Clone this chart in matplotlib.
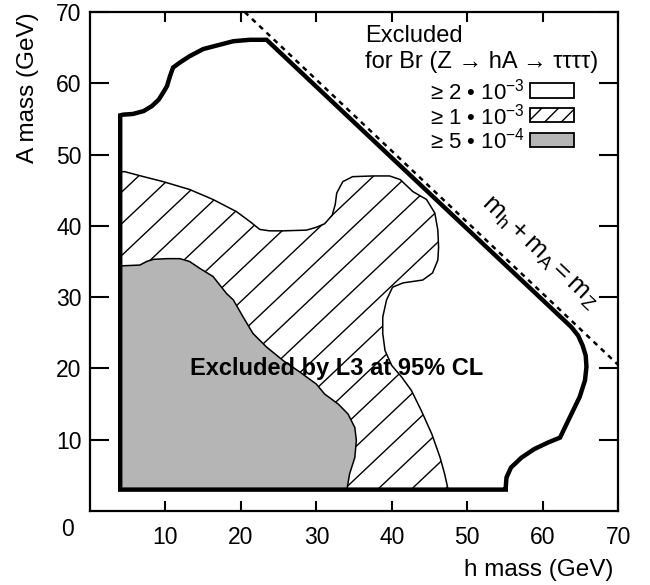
import numpy as np
import matplotlib
matplotlib.use("Agg")
import matplotlib.pyplot as plt
from matplotlib.patches import Polygon, Rectangle

plt.rcParams['font.family'] = ['Liberation Sans', 'DejaVu Sans']
plt.rcParams['mathtext.fontset'] = 'custom'
plt.rcParams['mathtext.rm'] = 'Liberation Sans'
plt.rcParams['mathtext.it'] = 'Liberation Sans'
plt.rcParams['hatch.linewidth'] = 1.0

# excluded for Br >= 2e-3 (outer thick contour)
outer_h = [4, 4, 4.4, 5.7, 7.1, 8.2, 9.1, 9.7, 10.2, 10.6, 11.0, 11.9, 13.2,
           15.0, 16.8, 19.0, 21.2, 23.4,
           63.8, 64.7, 65.3, 65.7, 65.8, 65.6, 64.9, 63.8, 62.3, 60.7, 58.9,
           57.2, 55.8, 55.2, 55.1, 55.1]
outer_a = [3, 55.5, 55.6, 55.7, 56.1, 56.8, 57.7, 58.7, 59.6, 61.0, 62.2, 62.9,
           63.8, 64.8, 65.3, 65.9, 66.1, 66.1,
           25.8, 24.6, 23.2, 21.8, 20.2, 18.3, 16.0, 13.6, 10.3, 9.6, 8.7,
           7.5, 6.1, 4.7, 3.3, 3]

# excluded for Br >= 1e-3 (hatched)
hatch_h = [4, 4, 4.6, 7.1, 9.7, 13.2, 16.3, 19.4, 21.2, 22.5, 23.8, 25.6,
           28.7, 30.0, 31.1, 32.1, 32.5, 32.7, 33.5, 34.8, 37.5, 39.7, 41.1,
           42.8, 44.6, 45.7, 46.1, 46.2, 46.1, 45.4, 44.1, 41.5, 40.1, 39.3,
           38.8, 38.8, 39.1, 40.0, 41.3, 42.6, 43.9, 45.3, 46.4, 47.0, 47.4,
           47.4]
hatch_a = [3, 47.6, 47.6, 46.9, 46.2, 45.1, 43.7, 42.0, 40.6, 39.5, 39.3, 39.3,
           39.4, 39.8, 40.3, 41.5, 43.0, 44.6, 46.2, 46.9, 47.0, 47.0, 46.5,
           44.8, 43.7, 41.8, 39.4, 37.0, 35.2, 33.4, 32.4, 32.0, 31.4, 29.6,
           27.2, 24.9, 22.5, 20.4, 18.8, 16.9, 14.1, 10.8, 7.5, 5.2, 3.3,
           3]

# excluded for Br >= 5e-4 (shaded)
shade_h = [4, 4, 4.4, 6.6, 7.5, 8.4, 10.2, 11.9, 13.2, 14.6, 16.3, 18.1,
           19.0, 20.3, 21.6, 23.4, 25.6, 27.8, 30.0, 31.1, 32.9, 34.2, 35.1,
           35.3, 35.1, 34.4, 34.1, 34.0]
shade_a = [3, 34.4, 34.4, 34.5, 35.0, 35.3, 35.4, 35.4, 35.0, 34.0, 32.9, 30.5,
           29.6, 27.2, 24.9, 23.0, 21.1, 19.5, 17.8, 16.4, 15.0, 13.6, 11.7,
           9.9, 7.5, 5.2, 3.3, 3]

mz_line = 90.5
ticks = [10, 20, 30, 40, 50, 60, 70]
legend_labels = ['≥ 2 • 10$^{\\mathrm{-3}}$', '≥ 1 • 10$^{\\mathrm{-3}}$',
                 '≥ 5 • 10$^{\\mathrm{-4}}$']
shade_color = '#b5b5b5'

fig = plt.figure(figsize=(6.5, 5.85), dpi=100)
ax = fig.add_axes([0.1385, 0.1265, 0.8125, 0.853])
ax.set_xlim(0, 70)
ax.set_ylim(0, 70)

# hatched region, wide hatching drawn by hand and clipped to the contour
hpoly = Polygon(np.column_stack([hatch_h, hatch_a]), closed=True,
                facecolor='white', edgecolor='black', lw=1.1, zorder=2)
ax.add_patch(hpoly)
for c in np.arange(-35.1 - 4.45 * 12, 60, 4.45):
    ln, = ax.plot([0, 70], [c, c + 70], color='black', lw=1.0, zorder=2.1)
    ln.set_clip_path(hpoly)

# shaded region
spoly = Polygon(np.column_stack([shade_h, shade_a]), closed=True,
                facecolor=shade_color, edgecolor='black', lw=1.1, zorder=3)
ax.add_patch(spoly)

# outer contour
opoly = Polygon(np.column_stack([outer_h, outer_a]), closed=True,
                facecolor='none', edgecolor='black', lw=3.2, zorder=4)
ax.add_patch(opoly)

# kinematic limit
xs = np.array([mz_line - 70, 70])
ax.plot(xs, mz_line - xs, color='black', lw=1.8, ls=(0, (2, 2)), zorder=4)
ax.text(59.5, 36.3, r'$\mathrm{m_h + m_A = m_Z}$', rotation=-43.5,
        ha='center', va='center', fontsize=19, zorder=5)

ax.text(32.7, 20.0, 'Excluded by L3 at 95% CL', fontsize=17,
        fontweight='bold', ha='center', va='center', zorder=6)

# legend
ax.text(36.4, 66.6, 'Excluded', fontsize=17, ha='left', va='center')
ax.text(36.4, 63.0, 'for Br (Z → hA → ττττ)', fontsize=17, ha='left',
        va='center')
rows = [58.9, 55.4, 51.9]
boxes = [dict(facecolor='white'), dict(facecolor='white', hatch='//'),
         dict(facecolor=shade_color)]
for lab, yy, st in zip(legend_labels, rows, boxes):
    ax.text(57.7, yy, lab, fontsize=16, ha='right', va='center')
    ax.add_patch(Rectangle((58.3, yy - 0.9), 5.9, 2.0, edgecolor='black',
                           lw=1.3, **st))

ax.set_xticks(ticks)
ax.set_yticks(ticks)
ax.tick_params(direction='in', top=True, right=True, labelsize=16.5, width=1.5)
ax.tick_params(axis='x', length=7, pad=11)
ax.tick_params(axis='y', length=14, pad=6)
for s in ax.spines.values():
    s.set_linewidth(1.6)

fig.text(68 / 650, 1 - 530 / 585, '0', fontsize=16.5, ha='center', va='center')
fig.text(28 / 650, 1 - 12 / 585, 'A mass (GeV)', fontsize=17.5, rotation=90,
         ha='center', va='top')
fig.text(613 / 650, 1 - 570 / 585, 'h mass (GeV)', fontsize=17.5, ha='right',
         va='center')

fig.savefig('out.png', dpi=100)
